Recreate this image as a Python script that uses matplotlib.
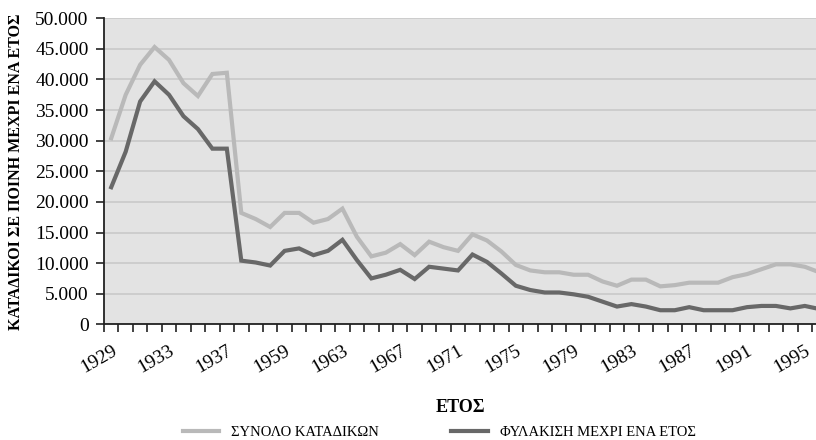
import matplotlib
matplotlib.use("Agg")
import matplotlib.pyplot as plt
import numpy as np
from matplotlib.ticker import FixedLocator, FuncFormatter

plt.rcParams['font.family'] = ['Liberation Serif', 'DejaVu Serif']

# years shown on the category axis (gap between 1938 and 1957)
years = list(range(1929, 1939)) + list(range(1957, 1997))

# total convictions
total = [30400, 37500, 42400, 45300, 43200, 39400, 37300, 40900, 41100, 18200,
         17200, 15900, 18200, 18200, 16600, 17200, 18900, 14300, 11100, 11700,
         13100, 11300, 13500, 12600, 12000, 14700, 13700, 11900, 9700, 8800,
         8500, 8500, 8100, 8100, 7000, 6300, 7300, 7300, 6200, 6400,
         6800, 6800, 6800, 7700, 8200, 9000, 9800, 9800, 9400, 8500]

# prison up to one year
prison = [22400, 28200, 36400, 39700, 37500, 34000, 31900, 28700, 28700, 10400,
          10100, 9600, 12000, 12400, 11300, 12000, 13800, 10500, 7500, 8100,
          8900, 7400, 9400, 9100, 8800, 11400, 10200, 8300, 6300, 5600,
          5200, 5200, 4900, 4500, 3700, 2900, 3300, 2900, 2300, 2300,
          2800, 2300, 2300, 2300, 2800, 3000, 3000, 2600, 3000, 2500]

series_names = ['ΣΥΝΟΛΟ ΚΑΤΑΔΙΚΩΝ', 'ΦΥΛΑΚΙΣΗ ΜΕΧΡΙ ΕΝΑ ΕΤΟΣ']

x = np.arange(len(years))

fig = plt.figure(figsize=(8.16, 4.4), dpi=100)
ax = fig.add_axes([104 / 816, 1 - 324.3 / 440, 1 - 104 / 816, (324.3 - 18.3) / 440])
ax.set_facecolor('#e3e3e3')

ax.plot(x, total, color='#b9b9b9', lw=3, solid_joinstyle='miter', label=series_names[0])
ax.plot(x, prison, color='#686868', lw=3, solid_joinstyle='miter', label=series_names[1])

# category axis: ticks between categories, labels every 4th
ax.set_xlim(-0.5, -0.5 + 712 / 14.45)
ax.xaxis.set_major_locator(FixedLocator(x[::4]))
ax.set_xticklabels([str(years[i]) for i in x[::4]], rotation=30, ha='right',
                   va='top', rotation_mode='anchor')
ax.xaxis.set_minor_locator(FixedLocator(np.arange(-0.5, len(years), 1)))
ax.tick_params(axis='x', which='major', length=0, pad=13, labelsize=14)
ax.tick_params(axis='x', which='minor', length=5.5, width=1.2, color='#222222')

ax.set_ylim(0, 50000)
ax.set_yticks(np.arange(0, 50001, 5000))
ax.yaxis.set_major_formatter(FuncFormatter(lambda v, p: f"{v:,.0f}".replace(",", ".")))
ax.tick_params(axis='y', length=6, width=1.2, color='#222222', pad=5, labelsize=14)
ax.grid(axis='y', color='#cbcbcb', lw=1.3)
ax.set_axisbelow(True)

for s in ['top', 'right']:
    ax.spines[s].set_visible(False)
for s in ['left', 'bottom']:
    ax.spines[s].set_linewidth(1.3)
    ax.spines[s].set_color('#222222')

ax.set_ylabel('ΚΑΤΑΔΙΚΟΙ ΣΕ ΠΟΙΝΗ ΜΕΧΡΙ ΕΝΑ ΕΤΟΣ', fontsize=11.5, fontweight='bold', labelpad=8)
ax.set_xlabel('ΕΤΟΣ', fontsize=13, fontweight='bold', labelpad=16)

fig.legend(loc='center', bbox_to_anchor=(439 / 816, 1 - 432 / 440), ncol=2, frameon=False,
           fontsize=10.5, handlelength=2.5, columnspacing=5.0, handletextpad=0.8)

fig.savefig('out.png', dpi=100)
